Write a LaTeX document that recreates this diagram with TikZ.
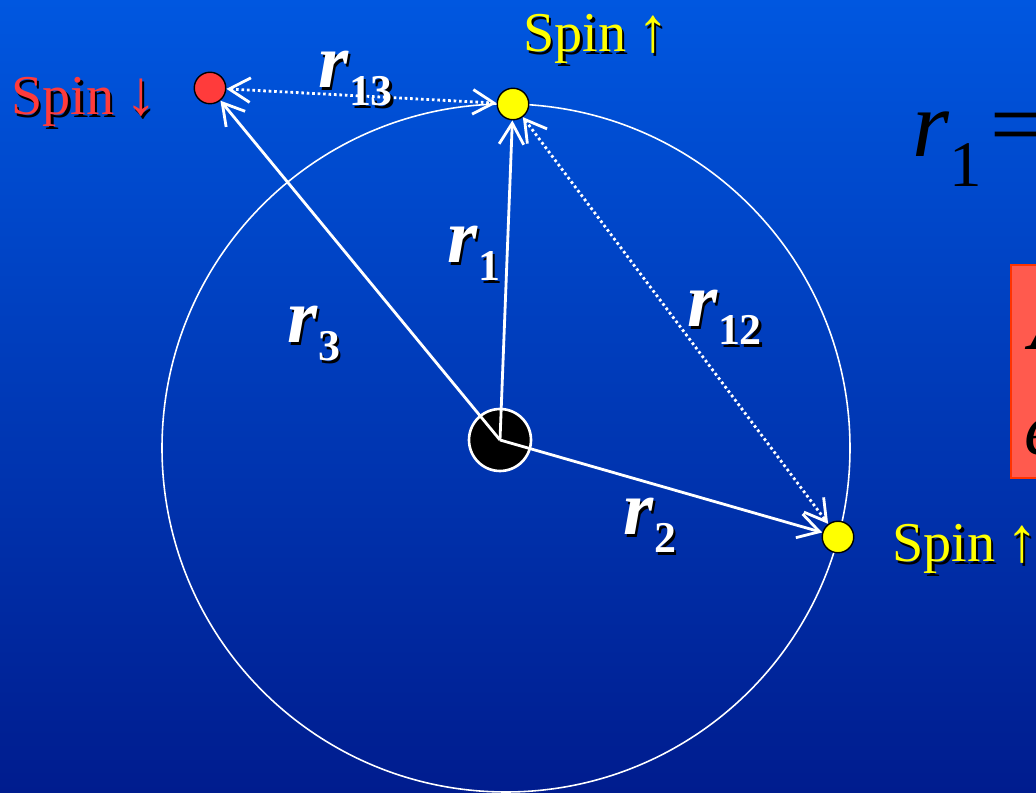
\documentclass[tikz,border=0pt]{standalone}
\usepackage{fontspec}
\setmainfont{Liberation Serif}
\usetikzlibrary{arrows.meta}
\definecolor{slideblue}{HTML}{0057E0}
\definecolor{slidenavy}{HTML}{001C8E}
\definecolor{spinyellow}{HTML}{FFFF00}
\definecolor{spinred}{HTML}{FF3B3B}
\definecolor{boxred}{HTML}{FF5A4E}
\definecolor{boxedge}{HTML}{FF3300}
\newcommand{\shadowed}[1]{\rlap{\kern1.5pt\raisebox{-1.5pt}{\color{black}#1}}#1}
\newcommand{\rsub}[1]{\textbf{\textit{r}}\raisebox{-10pt}{\fontsize{25}{25}\selectfont\textbf{#1}}}
\newcommand{\spinarrow}[1]{{\fontsize{36}{36}\selectfont#1}}

\begin{document}
\begin{tikzpicture}[x=0.02cm, y=-0.02cm,
  electron/.style={circle, draw=black, line width=0.8pt, minimum size=0.63cm, inner sep=0pt},
  nucleus/.style={circle, fill=black, draw=white, line width=1.5pt, minimum size=1.24cm, inner sep=0pt},
  orbit/.style={draw=white, line width=0.9pt},
  vec/.style={-{Straight Barb[length=12pt, width=14pt]}, draw=white, line width=1.6pt},
  pair/.style={{Straight Barb[length=12pt, width=14pt]}-{Straight Barb[length=12pt, width=14pt]},
    draw=white, line width=1.6pt, dash pattern=on 1.5pt off 1.6pt},
  rlab/.style={inner sep=0pt, anchor=base west, text=white, font=\fontsize{44}{44}\selectfont},
  spinlab/.style={inner sep=0pt, anchor=base west, font=\fontsize{32}{38}\selectfont},
  redbox/.style={draw=boxedge, fill=boxred, line width=1.2pt, anchor=north west,
    minimum width=1.3cm, minimum height=4.26cm, inner sep=0pt},
]

% ---- slide background ----
\clip (0,0) rectangle (1036,793);
\shade[top color=slideblue, bottom color=slidenavy] (0,0) rectangle (1036,793);

% ---- atom: orbit, nucleus, electrons ----
\draw[orbit] (506,448) circle [radius=344];
\node[nucleus] (nuc) at (500,440) {};
\node[electron, fill=spinred] (down) at (210,88) {};
\node[electron, fill=spinyellow] (upa) at (513,104) {};
\node[electron, fill=spinyellow] (upb) at (838,537) {};

\draw[vec] (nuc.center) -- (down);
\draw[vec] (nuc.center) -- (upa);
\draw[vec] (nuc.center) -- (upb);
\draw[pair] (down) -- (upa);
\draw[pair] (upa) -- (upb);

% ---- distance labels ----
\node[rlab] (l13) at (318,88) {\shadowed{\rsub{13}}};
\node[rlab] (l1) at (447,263) {\shadowed{\rsub{1}}};
\node[rlab] (l3) at (287,343) {\shadowed{\rsub{3}}};
\node[rlab] (l12) at (687,327) {\shadowed{\rsub{12}}};
\node[rlab] (l2) at (623,535) {\shadowed{\rsub{2}}};

% ---- spin labels ----
\node[spinlab, text=spinred] (sdown) at (11,115) {\shadowed{Spin\hspace{6pt}\spinarrow{↓}}};
\node[spinlab, text=spinyellow] (supa) at (523,52) {\shadowed{Spin\hspace{6pt}\spinarrow{↑}}};
\node[spinlab, text=spinyellow] (supb) at (892,562) {\shadowed{Spin\hspace{6pt}\spinarrow{↑}}};

% ---- right edge, cut off ----
\node[inner sep=0pt, anchor=base west, font=\fontsize{54}{54}\selectfont] (rdef) at (912,157)
  {\textit{r}\raisebox{-17pt}{\fontsize{37}{37}\selectfont 1}\hspace{5pt}=};
\node[redbox] (rule) at (1010,264) {};
\node[inner sep=0pt, anchor=base west, font=\fontsize{54}{54}\selectfont\itshape] (rulea) at (1030,350) {A};
\node[inner sep=0pt, anchor=base west, font=\fontsize{44}{44}\selectfont\itshape] (ruleb) at (1024,455) {e};

\end{tikzpicture}
\end{document}
